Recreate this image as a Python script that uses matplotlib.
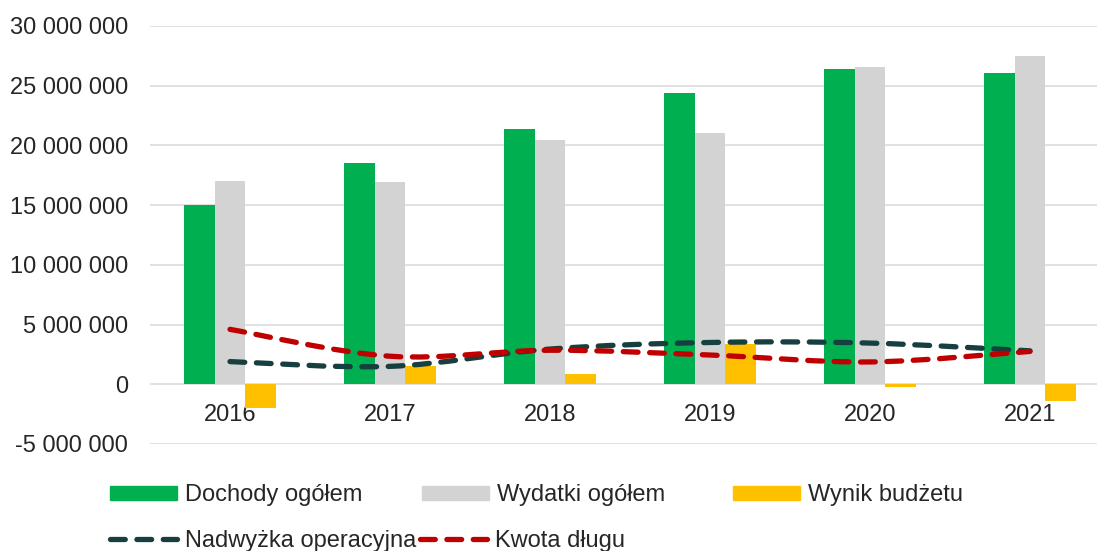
import matplotlib
matplotlib.use("Agg")
import matplotlib.pyplot as plt
import numpy as np
from matplotlib.path import Path
from matplotlib.patches import PathPatch, Patch
from matplotlib.lines import Line2D
from matplotlib.ticker import FuncFormatter

# dane budżetowe
lata = ["2016", "2017", "2018", "2019", "2020", "2021"]
dochody = [15_050_000, 18_500_000, 21_350_000, 24_350_000, 26_400_000, 26_050_000]
wydatki = [17_000_000, 16_950_000, 20_450_000, 21_000_000, 26_600_000, 27_500_000]
wynik = [-1_950_000, 1_550_000, 900_000, 3_350_000, -250_000, -1_400_000]
nadwyzka = [1_900_000, 1_500_000, 2_950_000, 3_500_000, 3_450_000, 2_800_000]
dlug = [4_600_000, 2_350_000, 2_850_000, 2_450_000, 1_870_000, 2_750_000]

ZIELONY = "#00B050"
SZARY = "#D3D3D3"
ZOLTY = "#FFC000"
CIEMNY = "#173F3F"
CZERWONY = "#C00000"
TEKST = "#262626"

plt.rcParams["font.family"] = ["Liberation Sans", "DejaVu Sans"]

fig = plt.figure(figsize=(10.97, 5.51), dpi=100)
W, H = 1097, 551
ax = fig.add_axes([150 / W, 1 - 444 / H, 960 / W, (444 - 26) / H])

x = np.arange(len(lata))
w = 0.19
ax.bar(x - w, dochody, w, color=ZIELONY, zorder=2)
ax.bar(x, wydatki, w, color=SZARY, zorder=2)
ax.bar(x + w, wynik, w, color=ZOLTY, zorder=2)


def gladka_linia(xs, ys):
    # krzywe Beziera jak "wygładzona linia" w Excelu
    pts = np.column_stack([xs, ys]).astype(float)
    n = len(pts)
    verts = [pts[0]]
    codes = [Path.MOVETO]
    for i in range(n - 1):
        p0 = pts[i - 1] if i > 0 else pts[i]
        p1 = pts[i]
        p2 = pts[i + 1]
        p3 = pts[i + 2] if i + 2 < n else pts[i + 1]
        c1 = p1 + (p2 - p0) / 6
        c2 = p2 - (p3 - p1) / 6
        verts += [c1, c2, p2]
        codes += [Path.CURVE4] * 3
    return Path(verts, codes)


styl = (0, (2.8, 2.2))
lw = 3.8
for seria, kolor in [(nadwyzka, CIEMNY), (dlug, CZERWONY)]:
    pp = PathPatch(gladka_linia(x, seria), fill=False, edgecolor=kolor,
                   linewidth=lw, linestyle=styl, capstyle="round", zorder=3)
    ax.add_patch(pp)

ax.set_xlim(-0.5, 5.5)
ax.set_ylim(-5_000_000, 30_000_000)
ax.set_yticks(np.arange(-5_000_000, 30_000_001, 5_000_000))
ax.yaxis.set_major_formatter(FuncFormatter(lambda v, p: f"{int(v):,}".replace(",", " ")))
ax.grid(axis="y", color="#D9D9D9", linewidth=1.1, zorder=0)
ax.set_axisbelow(True)
for s in ["top", "right", "left"]:
    ax.spines[s].set_visible(False)
ax.spines["bottom"].set_position(("data", 0))
ax.spines["bottom"].set_visible(False)
ax.set_xticks(x)
ax.set_xticklabels(lata)
ax.tick_params(axis="x", length=0, pad=14, labelsize=17, labelcolor=TEKST)
ax.tick_params(axis="y", length=0, pad=16, labelsize=17, labelcolor=TEKST)

# legenda - osobne wpisy ustawione jak w oryginale
wpisy = [
    (Patch(color=ZIELONY), "Dochody ogółem", 110, 495),
    (Patch(color=SZARY), "Wydatki ogółem", 422, 495),
    (Patch(color=ZOLTY), "Wynik budżetu", 733, 495),
    (Line2D([], [], color=CIEMNY, lw=lw, linestyle=styl, dash_capstyle="round"),
     "Nadwyżka operacyjna", 110, 541),
    (Line2D([], [], color=CZERWONY, lw=lw, linestyle=styl, dash_capstyle="round"),
     "Kwota długu", 420, 541),
]
for h, txt, px, py in wpisy:
    fig.legend([h], [txt], loc="center left", bbox_to_anchor=(px / W, 1 - py / H),
               frameon=False, borderpad=0, borderaxespad=0, handlelength=2.85,
               handleheight=0.55, handletextpad=0.34,
               prop=dict(size=17), labelcolor=TEKST)

fig.savefig("out.png", dpi=100)
